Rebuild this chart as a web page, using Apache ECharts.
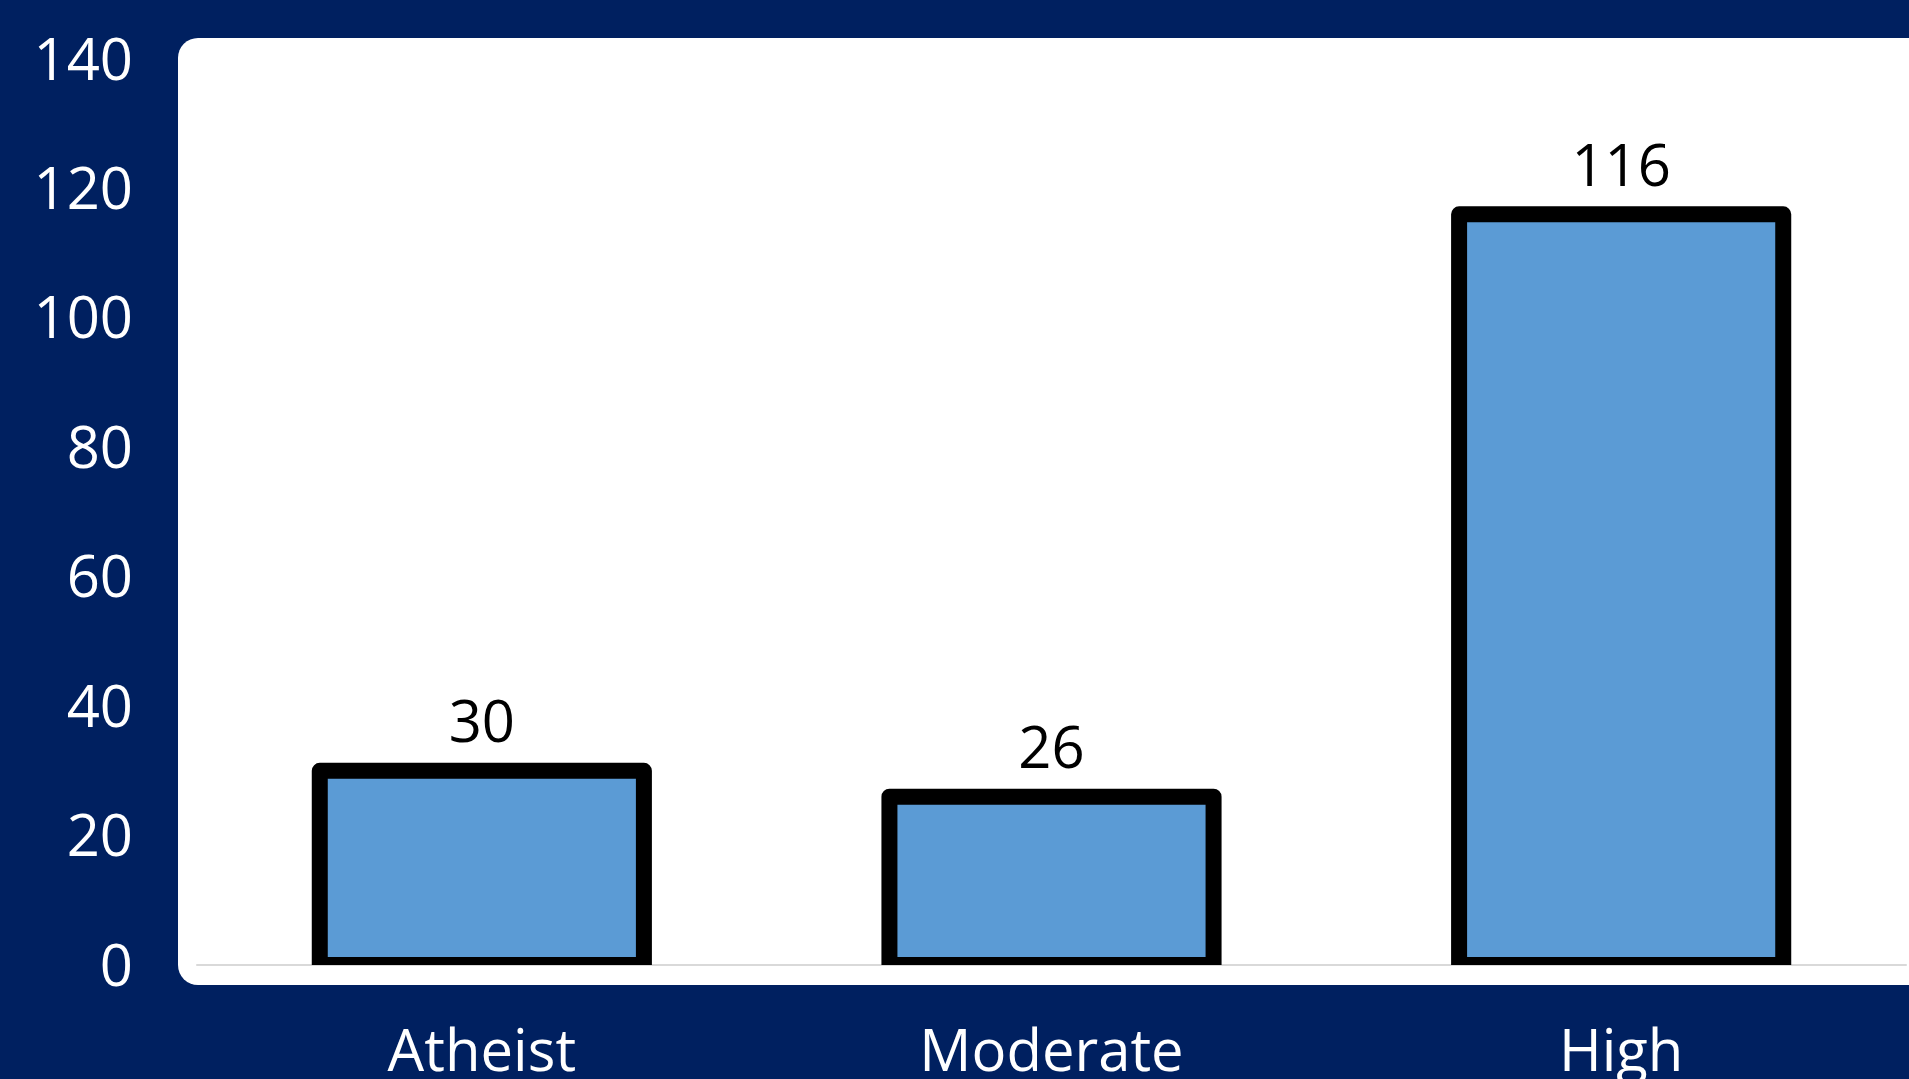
<!DOCTYPE html>
<html>
<head>
<meta charset="utf-8">
<script src="https://cdn.jsdelivr.net/npm/echarts@6/dist/echarts.min.js"></script>
<style>
html,body{margin:0;padding:0;background:#002060;}
#c{width:1909px;height:1079px;}
</style>
</head>
<body>
<div id="c"></div>
<script>
const categories = ['Atheist', 'Moderate', 'High'];
const values = [30, 26, 116];
const yMin = 0, yMax = 140, yInterval = 20;

const chart = echarts.init(document.getElementById('c'), null, {renderer: 'canvas'});
const font = '"Open Sans", "Liberation Sans", sans-serif';
const barRatio = 0.569;

chart.setOption({
  backgroundColor: '#002060',
  animation: false,
  graphic: [{
    type: 'rect',
    z: -10,
    silent: true,
    shape: {x: 178, y: 38, width: 1800, height: 947, r: 20},
    style: {fill: '#ffffff'}
  }],
  grid: {left: 197, right: 3, top: 59, bottom: 114, containLabel: false, outerBoundsMode: 'none'},
  xAxis: {
    type: 'category',
    data: categories,
    axisLine: {show: true, lineStyle: {color: '#D9D9D9', width: 2}},
    axisTick: {show: false},
    axisLabel: {color: '#ffffff', fontSize: 58, fontFamily: font, margin: 60}
  },
  yAxis: {
    type: 'value',
    min: yMin, max: yMax, interval: yInterval,
    axisLine: {show: false},
    axisTick: {show: false},
    splitLine: {show: false},
    axisLabel: {
      color: '#ffffff', fontSize: 58, fontFamily: font, margin: 64,
      formatter: '{a|{value}}',
      rich: {a: {color: '#ffffff', fontSize: 58, fontFamily: font, padding: [8, 0, 0, 0]}}
    }
  },
  series: [{
    type: 'custom',
    clip: true,
    z: 1,
    encode: {x: 0, y: 1},
    data: categories.map((c, i) => [i, values[i]]),
    renderItem: function (params, api) {
      const idx = api.value(0);
      const v = api.value(1);
      const base = api.coord([idx, 0]);
      const top = api.coord([idx, v]);
      const band = api.size([1, 0])[0];
      const w = band * barRatio;
      return {
        type: 'rect',
        shape: {x: base[0] - w / 2, y: top[1], width: w, height: base[1] - top[1]},
        style: {fill: '#5B9BD5', stroke: '#000000', lineWidth: 16, lineJoin: 'round'},
        textContent: {
          style: {text: String(v), fill: '#000000', fontSize: 58, fontFamily: font}
        },
        textConfig: {position: 'top', distance: 8}
      };
    }
  }]
});
</script>
</body>
</html>
